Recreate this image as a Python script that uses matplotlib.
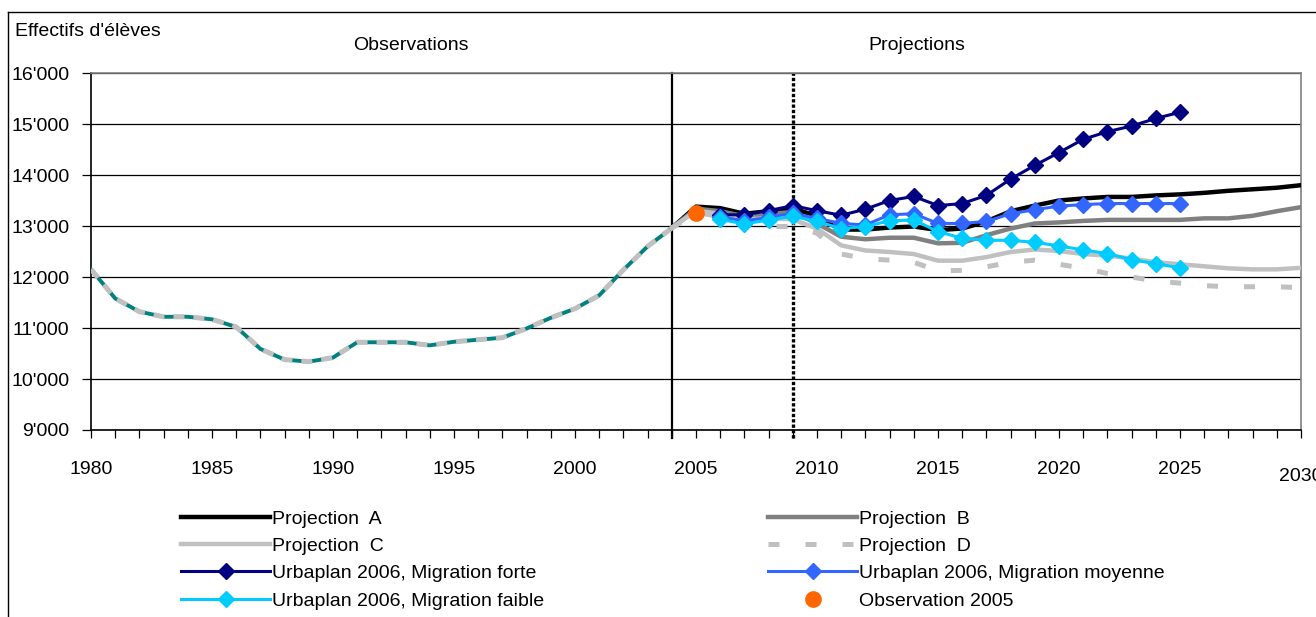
import matplotlib
matplotlib.use("Agg")
import matplotlib.pyplot as plt
from matplotlib.lines import Line2D
from matplotlib.ticker import FuncFormatter
import matplotlib.transforms as mtransforms

plt.rcParams['font.family'] = ['Liberation Sans', 'DejaVu Sans']

# Observed pupils 1980-2004
obs_years = list(range(1980, 2005))
obs_values = [12150, 11580, 11320, 11220, 11220, 11170, 11020, 10590, 10380, 10340,
              10420, 10720, 10720, 10720, 10660, 10730, 10770, 10810, 10990, 11200,
              11380, 11640, 12140, 12600, 12960]

# Projections A-D, 2004-2030
proj_years = list(range(2004, 2031))
proj_a = [12960, 13380, 13350, 13240, 13290, 13350, 13190, 12930, 12930, 12970, 12990,
          12920, 12950, 13090, 13290, 13400, 13500, 13540, 13570, 13570, 13600, 13620,
          13650, 13690, 13720, 13750, 13800]
proj_b = [12960, 13340, 13290, 13190, 13240, 13270, 13050, 12790, 12740, 12770, 12770,
          12660, 12670, 12820, 12950, 13050, 13070, 13100, 13120, 13120, 13120, 13120,
          13150, 13150, 13200, 13290, 13370]
proj_c = [12960, 13300, 13240, 13130, 13150, 13130, 12950, 12620, 12520, 12490, 12450,
          12320, 12320, 12390, 12490, 12540, 12510, 12450, 12420, 12360, 12290, 12250,
          12210, 12170, 12150, 12150, 12180]
proj_d = [12960, 13270, 13180, 13050, 12990, 12990, 12860, 12450, 12360, 12330, 12290,
          12120, 12130, 12200, 12290, 12330, 12250, 12170, 12070, 12000, 11920, 11880,
          11830, 11810, 11810, 11810, 11790]

# Urbaplan 2006 scenarios, 2006-2025
urb_years = list(range(2006, 2026))
urb_forte = [13220, 13220, 13300, 13400, 13300, 13210, 13330, 13500, 13580, 13400,
             13440, 13600, 13920, 14190, 14440, 14700, 14850, 14960, 15110, 15230]
urb_moyenne = [13180, 13100, 13170, 13250, 13150, 13050, 13020, 13220, 13240, 13050,
               13050, 13090, 13240, 13320, 13390, 13420, 13440, 13440, 13440, 13440]
urb_faible = [13130, 13040, 13120, 13190, 13090, 12950, 12990, 13100, 13120, 12890,
              12760, 12720, 12720, 12680, 12610, 12530, 12460, 12340, 12260, 12180]

obs_2005_year = [2005]
obs_2005_value = [13260]

W, H = 1316, 617
fig = plt.figure(figsize=(W / 100, H / 100), dpi=100)
ax = fig.add_axes([91 / W, 1 - 430 / H, (1301 - 91) / W, (430 - 73) / H])

# observation line (teal with grey dashes on top)
ax.plot(obs_years, obs_values, color='#008080', lw=2.8, zorder=3)
ax.plot(obs_years, obs_values, color='#c0c0c0', lw=3.6, dashes=(2.2, 1.8), zorder=3)

# projections
ax.plot(proj_years, proj_a, color='black', lw=3.2, label='Projection  A', zorder=3)
ax.plot(proj_years, proj_b, color='#808080', lw=3.2, label='Projection  B', zorder=3)
ax.plot(proj_years, proj_c, color='#c0c0c0', lw=3.2, label='Projection  C', zorder=3)
ax.plot(proj_years, proj_d, color='#c0c0c0', lw=3.6, dashes=(2.2, 5.2), label='Projection  D', zorder=3)

# urbaplan
ax.plot(urb_years, urb_forte, color='#000080', lw=2.2, marker='D', ms=8,
        label='Urbaplan 2006, Migration forte', zorder=4)
ax.plot(urb_years, urb_moyenne, color='#3366ff', lw=2.2, marker='D', ms=8,
        label='Urbaplan 2006, Migration moyenne', zorder=4)
ax.plot(urb_years, urb_faible, color='#00ccff', lw=2.2, marker='D', ms=8,
        label='Urbaplan 2006, Migration faible', zorder=4)

ax.plot(obs_2005_year, obs_2005_value, 'o', color='#ff6600', ms=11, label='Observation 2005', zorder=5)

# separators between observations / projections
ax.axvline(2004, ymin=-0.022, color='black', lw=1.6, clip_on=False, zorder=2)
ax.axvline(2009, ymin=-0.022, color='black', lw=2.4, ls=(0, (1, 0.6)), clip_on=False, zorder=2)

ax.set_xlim(1980, 2030)
ax.set_ylim(9000, 16000)
ax.set_yticks(range(9000, 16001, 1000))
ax.yaxis.set_major_formatter(FuncFormatter(lambda v, p: f"{int(v):,}".replace(',', "'")))
ax.grid(axis='y', color='black', lw=0.9)
ax.set_axisbelow(True)

ticks = list(range(1980, 2031))
ax.set_xticks(ticks)
ax.set_xticklabels([str(t) if t % 5 == 0 and t < 2030 else '' for t in ticks])
ax.tick_params(axis='x', length=6, width=0.9, pad=16, labelsize=14)
ax.tick_params(axis='y', length=6.5, width=0.9, pad=9, labelsize=14)
trans = mtransforms.blended_transform_factory(ax.transData, ax.transAxes)
ax.text(2030, -0.107, '2030', transform=trans, ha='center', va='top', fontsize=14, clip_on=False)

for side in ['top', 'right']:
    ax.spines[side].set_color('#808080')
    ax.spines[side].set_linewidth(1.2)
for side in ['left', 'bottom']:
    ax.spines[side].set_color('black')
    ax.spines[side].set_linewidth(1.2)

# texts
fig.text(15 / W, 1 - 31 / H, "Effectifs d'élèves", ha='left', va='center', fontsize=14)
fig.text(411 / W, 1 - 46 / H, 'Observations', ha='center', va='center', fontsize=14)
fig.text(917 / W, 1 - 46 / H, 'Projections', ha='center', va='center', fontsize=14)

# legend in two columns
handles, labels = ax.get_legend_handles_labels()
lookup = dict(zip(labels, handles))
col1 = ['Projection  A', 'Projection  C', 'Urbaplan 2006, Migration forte', 'Urbaplan 2006, Migration faible']
col2 = ['Projection  B', 'Projection  D', 'Urbaplan 2006, Migration moyenne', 'Observation 2005']
for names, x0 in [(col1, 181), (col2, 768)]:
    fig.legend([lookup[n] for n in names], names, loc='upper left',
               bbox_to_anchor=(x0 / W, 1 - 510 / H), frameon=False, fontsize=14,
               borderpad=0, borderaxespad=0, handlelength=4.6, handletextpad=0.1,
               labelspacing=0.5)

# outer frame (left and top)
fig.add_artist(Line2D([8 / W, 8 / W], [0, 1 - 12 / H], color='black', lw=1))
fig.add_artist(Line2D([8 / W, 1], [1 - 12 / H, 1 - 12 / H], color='black', lw=1))

fig.savefig('out.png', dpi=100)
